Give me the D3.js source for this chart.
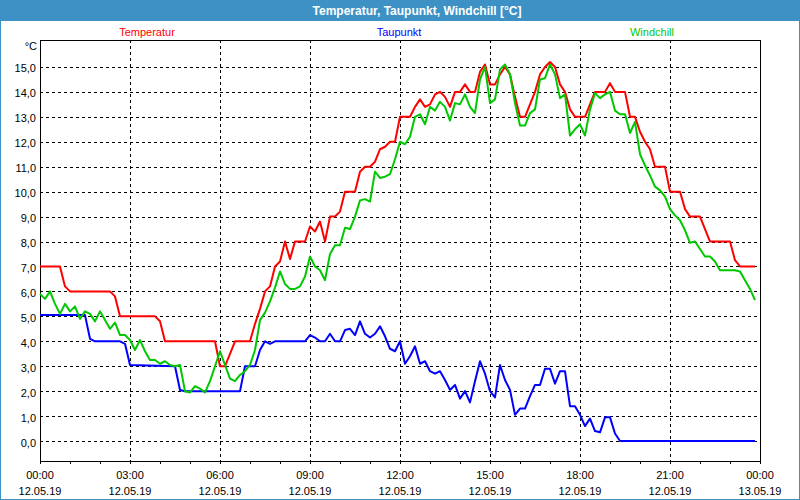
<!DOCTYPE html>
<html>
<head>
<meta charset="utf-8">
<script src="https://cdn.jsdelivr.net/npm/d3@7/dist/d3.min.js"></script>
<style>
html,body{margin:0;padding:0;background:#fff;}
svg{display:block;}
text{font-family:"Liberation Sans",Arial,sans-serif;}
</style>
</head>
<body>
<script>
const title = "Temperatur, Taupunkt, Windchill [°C]";
const seriesNames = ["Temperatur", "Taupunkt", "Windchill"];
const seriesColors = ["#ff0000", "#0000ff", "#00c800"];
const yTicks = [0,1,2,3,4,5,6,7,8,9,10,11,12,13,14,15];
const xTickTimes = ["00:00","03:00","06:00","09:00","12:00","15:00","18:00","21:00","24:00"];
const xTickLabels = ["00:00","03:00","06:00","09:00","12:00","15:00","18:00","21:00","00:00"];
const xTickDates = ["12.05.19","12.05.19","12.05.19","12.05.19","12.05.19","12.05.19","12.05.19","12.05.19","13.05.19"];

const temperatur = [
["00:00",7.0],["00:40",7.0],["00:50",6.2],["01:00",6.0],["02:20",6.0],["02:30",5.8],["02:40",5.0],
["03:50",5.0],["04:00",4.8],["04:10",4.0],["05:50",4.0],["06:00",3.0],["06:10",3.0],["06:20",3.5],
["06:30",4.0],["07:00",4.0],["07:10",4.7],["07:20",5.3],["07:30",6.0],["07:40",6.2],["07:50",7.0],
["08:00",7.2],["08:10",8.0],["08:20",7.3],["08:30",8.0],["08:50",8.0],["09:00",8.6],["09:10",8.4],
["09:20",8.8],["09:30",8.0],["09:40",9.0],["09:50",9.0],["10:00",9.2],["10:10",10.0],["10:30",10.0],
["10:40",10.8],["10:50",11.0],["11:00",11.0],["11:10",11.2],["11:20",11.7],["11:30",11.8],["11:40",12.0],
["11:50",12.0],["12:00",13.0],["12:20",13.0],["12:30",13.4],["12:40",13.7],["12:50",13.4],["13:00",13.5],
["13:10",13.9],["13:20",14.0],["13:30",13.8],["13:40",13.4],["13:50",14.0],["14:00",14.0],["14:10",14.3],
["14:20",14.0],["14:30",14.0],["14:40",14.8],["14:50",15.1],["15:00",14.3],["15:10",14.3],["15:20",14.7],
["15:30",15.0],["15:40",14.7],["15:50",13.8],["16:00",13.0],["16:10",13.0],["16:20",13.5],["16:30",14.0],
["16:40",14.7],["16:50",15.0],["17:00",15.2],["17:10",15.0],["17:20",14.3],["17:30",14.0],["17:40",13.3],
["17:50",13.0],["18:10",13.0],["18:20",13.5],["18:30",14.0],["18:50",14.0],["19:00",14.35],["19:10",14.0],
["19:30",14.0],["19:40",13.0],["19:50",13.0],["20:00",12.4],["20:10",12.0],["20:20",11.7],["20:30",11.0],
["20:50",11.0],["21:00",10.0],["21:20",10.0],["21:30",9.3],["21:40",9.0],["22:00",9.0],["22:20",8.0],
["23:00",8.0],["23:10",7.25],["23:20",7.0],["23:50",7.0]
];

const taupunkt = [
["00:00",5.05],["01:30",5.05],["01:40",4.1],["01:50",4.0],["02:40",4.0],["02:50",3.9],["03:00",3.05],
["04:30",3.0],["04:40",2.05],["04:50",2.0],["06:40",2.0],["06:50",3.0],["07:10",3.0],["07:20",3.65],
["07:30",4.0],["07:40",3.9],["07:50",4.0],["08:50",4.0],["09:00",4.25],["09:10",4.15],["09:20",4.0],
["09:30",4.0],["09:40",4.3],["09:50",4.0],["10:00",4.0],["10:10",4.45],["10:20",4.5],["10:30",4.25],
["10:40",4.8],["10:50",4.3],["11:00",4.15],["11:10",4.3],["11:20",4.6],["11:30",4.2],["11:40",3.7],
["11:50",3.6],["12:00",4.0],["12:10",3.1],["12:20",3.4],["12:30",3.8],["12:40",3.1],["12:50",3.2],
["13:00",2.8],["13:10",2.7],["13:20",2.8],["13:30",2.45],["13:40",2.05],["13:50",2.25],["14:00",1.7],
["14:10",2.0],["14:20",1.55],["14:30",2.4],["14:40",3.2],["14:50",2.7],["15:00",2.0],["15:10",1.75],
["15:20",3.05],["15:30",2.45],["15:40",2.05],["15:50",1.05],["16:00",1.3],["16:10",1.3],["16:20",1.8],
["16:30",2.25],["16:40",2.25],["16:50",2.9],["17:00",2.9],["17:10",2.3],["17:20",2.8],["17:30",2.8],
["17:40",1.4],["17:50",1.4],["18:00",1.05],["18:10",0.6],["18:20",0.9],["18:30",0.4],["18:40",0.35],
["18:50",0.95],["19:00",0.95],["19:10",0.3],["19:20",0.0],["23:50",0.0]
];

const windchill = [
["00:00",5.9],["00:10",5.7],["00:20",6.0],["00:30",5.5],["00:40",5.1],["00:50",5.5],["01:00",5.2],
["01:10",5.4],["01:20",4.9],["01:30",5.2],["01:40",5.1],["01:50",4.8],["02:00",5.2],["02:10",4.85],
["02:20",4.5],["02:30",4.75],["02:40",4.25],["02:50",4.25],["03:00",4.05],["03:10",3.65],["03:20",4.05],
["03:30",3.6],["03:40",3.25],["03:50",3.25],["04:00",3.1],["04:10",3.2],["04:20",3.05],["04:30",3.0],
["04:40",3.05],["04:50",2.0],["05:00",1.95],["05:10",2.2],["05:20",2.1],["05:30",1.95],["05:40",2.4],
["05:50",3.0],["06:00",3.6],["06:10",3.05],["06:20",2.5],["06:30",2.4],["06:40",2.65],["06:50",2.8],
["07:00",3.05],["07:10",3.65],["07:20",4.85],["07:30",5.15],["07:40",5.6],["07:50",6.15],["08:00",6.8],
["08:10",6.3],["08:20",6.1],["08:30",6.1],["08:40",6.2],["08:50",6.6],["09:00",7.4],["09:10",7.0],
["09:20",6.85],["09:30",6.45],["09:40",7.5],["09:50",7.85],["10:00",7.85],["10:10",8.55],["10:20",8.5],
["10:30",9.0],["10:40",9.65],["10:50",9.7],["11:00",9.6],["11:10",10.8],["11:20",10.55],["11:30",10.6],
["11:40",10.7],["11:50",11.3],["12:00",12.0],["12:10",11.9],["12:20",12.2],["12:30",13.0],["12:40",13.1],
["12:50",12.7],["13:00",13.4],["13:10",13.25],["13:20",13.6],["13:30",13.4],["13:40",12.85],["13:50",13.55],
["14:00",13.5],["14:10",13.9],["14:20",13.4],["14:30",13.15],["14:40",14.5],["14:50",15.0],["15:00",13.55],
["15:10",13.7],["15:20",14.9],["15:30",15.1],["15:40",14.7],["15:50",13.55],["16:00",12.65],["16:10",12.65],
["16:20",13.15],["16:30",13.3],["16:40",14.5],["16:50",14.55],["17:00",15.1],["17:10",14.7],["17:20",13.75],
["17:30",13.9],["17:40",12.25],["17:50",12.5],["18:00",12.7],["18:10",12.25],["18:20",13.3],["18:30",13.95],
["18:40",13.75],["18:50",13.9],["19:00",14.0],["19:10",13.25],["19:20",13.1],["19:30",13.1],["19:40",12.35],
["19:50",12.8],["20:00",11.5],["20:10",11.05],["20:20",10.65],["20:30",10.2],["20:40",10.05],["20:50",9.8],
["21:00",9.3],["21:10",9.05],["21:20",8.85],["21:30",8.45],["21:40",7.95],["21:50",8.0],["22:00",7.7],
["22:10",7.4],["22:20",7.4],["22:30",7.2],["22:40",6.85],["22:50",6.85],["23:00",6.85],["23:10",6.85],
["23:20",6.8],["23:30",6.45],["23:40",6.1],["23:50",5.65]
];

const W = 800, H = 500;
const toMin = s => { const p = s.split(":"); return (+p[0]) * 60 + (+p[1]); };

const svg = d3.select("body").append("svg").attr("width", W).attr("height", H);

// window frame
svg.append("rect").attr("x",0).attr("y",0).attr("width",W).attr("height",H).attr("fill","#fff");
svg.append("rect").attr("x",0).attr("y",0).attr("width",W).attr("height",21).attr("fill","#3d91c4");
svg.append("rect").attr("x",0.5).attr("y",0.5).attr("width",W-1).attr("height",H-1)
  .attr("fill","none").attr("stroke","#3d91c4").attr("stroke-width",1);
svg.append("text").attr("x",417).attr("y",15).attr("text-anchor","middle")
  .attr("fill","#fff").attr("font-weight","bold").attr("font-size","12px").text(title);

const L = 40, R = 760, T = 40, B = 461;
const x = d3.scaleLinear().domain([0, 1440]).range([L, R]);
const y = d3.scaleLinear().domain([-0.8, 16.08]).range([B, T]);

// legend
const legendX = [147, 399, 652];
seriesNames.forEach((n, i) => {
  svg.append("text").attr("x", legendX[i]).attr("y", 36).attr("text-anchor","middle")
    .attr("font-size","11px").attr("fill", seriesColors[i]).text(n);
});

// grid
const grid = svg.append("g").attr("shape-rendering","crispEdges");
grid.selectAll("line.h").data(yTicks).enter().append("line")
  .attr("x1", L).attr("x2", R).attr("y1", d => Math.round(y(d)) + 0.5).attr("y2", d => Math.round(y(d)) + 0.5)
  .attr("stroke","#000").attr("stroke-dasharray","3,3");
grid.selectAll("line.v").data(xTickTimes.slice(1, -1)).enter().append("line")
  .attr("y1", T).attr("y2", B).attr("x1", d => Math.round(x(toMin(d))) + 0.5).attr("x2", d => Math.round(x(toMin(d))) + 0.5)
  .attr("stroke","#000").attr("stroke-dasharray","3,3");

// y axis
const yAxis = d3.axisLeft(y).tickValues(yTicks).tickSize(0).tickPadding(4)
  .tickFormat(d => d3.format(".1f")(d).replace(".", ","));
const gy = svg.append("g").attr("transform", `translate(${L},0)`).call(yAxis);
gy.select(".domain").remove();
gy.selectAll("text").attr("font-size","11px").attr("font-family","Liberation Sans, Arial, sans-serif")
  .attr("fill","#000").attr("dy","0.45em");
svg.append("text").attr("x", 37).attr("y", 50).attr("text-anchor","end").attr("font-size","11px").text("°C");

// x axis with hourly minor ticks
const hourTicks = d3.range(0, 1441, 60);
const xAxis = d3.axisBottom(x).tickValues(hourTicks).tickSize(3).tickFormat("");
const gx = svg.append("g").attr("transform", `translate(0,${B})`).attr("shape-rendering","crispEdges").call(xAxis);
gx.select(".domain").remove();
gx.selectAll("line").attr("stroke","#000");
xTickTimes.forEach((t, i) => {
  const tx = x(toMin(t));
  svg.append("text").attr("x", tx).attr("y", 479).attr("text-anchor","middle").attr("font-size","11px").text(xTickLabels[i]);
  svg.append("text").attr("x", tx).attr("y", 495).attr("text-anchor","middle").attr("font-size","11px").text(xTickDates[i]);
});

// frame
const frame = svg.append("g").attr("shape-rendering","crispEdges");
frame.append("rect").attr("x", L + 0.5).attr("y", T + 0.5).attr("width", R - L).attr("height", B - T)
  .attr("fill","none").attr("stroke","#000").attr("stroke-width",1);

// lines
const line = d3.line().x(d => x(toMin(d[0]))).y(d => y(d[1]));
[temperatur, taupunkt, windchill].forEach((s, i) => {
  svg.append("path").datum(s).attr("d", line).attr("fill","none")
    .attr("stroke", seriesColors[i]).attr("stroke-width", 2).attr("stroke-linejoin","round");
});
</script>
</body>
</html>
